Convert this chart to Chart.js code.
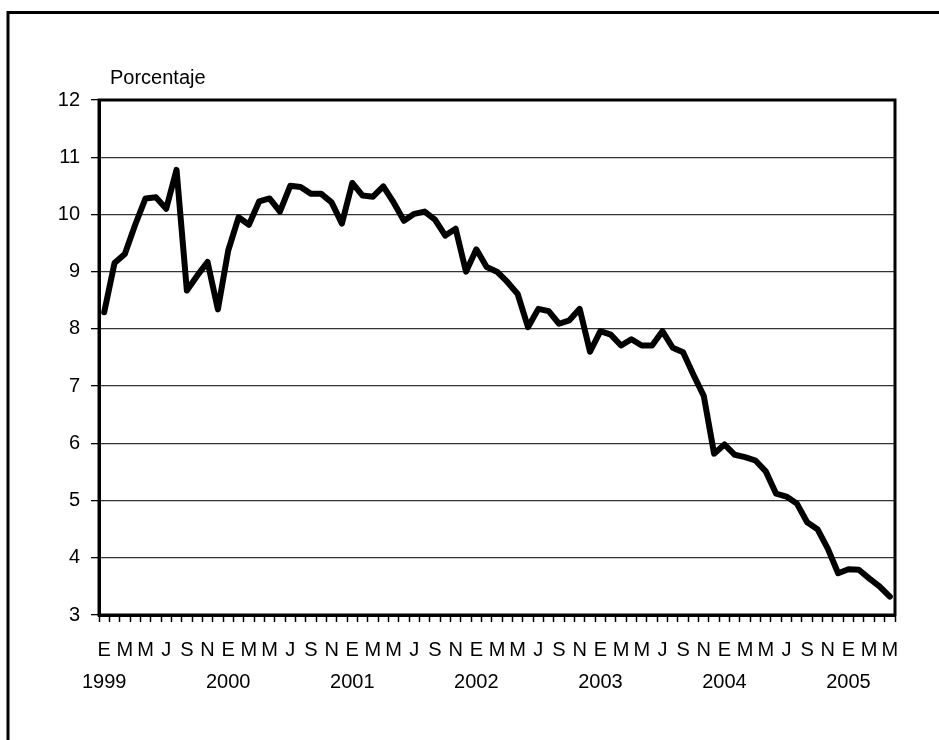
<!DOCTYPE html>
<html>
<head>
<meta charset="utf-8">
<script src="https://cdn.jsdelivr.net/npm/chart.js@4.4.0/dist/chart.umd.min.js"></script>
<style>
  html, body { margin: 0; padding: 0; background: #fff; }
  #wrap { width: 939px; height: 740px; position: relative; }
</style>
</head>
<body>
<div id="wrap"><canvas id="myChart" width="939" height="740"></canvas></div>
<script>
// tasa mensual, enero 1999 - mayo 2005
var years = ['1999', '2000', '2001', '2002', '2003', '2004', '2005'];
var monthLetters = ['E', 'F', 'M', 'A', 'M', 'J', 'J', 'A', 'S', 'O', 'N', 'D'];
var yTicks = [3, 4, 5, 6, 7, 8, 9, 10, 11, 12];
var axisTitle = 'Porcentaje';

var v1999 = [8.29, 9.15, 9.31, 9.82, 10.28, 10.30, 10.10, 10.78, 8.67, 8.93, 9.17, 8.34];
var v2000 = [9.37, 9.95, 9.82, 10.23, 10.28, 10.05, 10.50, 10.48, 10.36, 10.36, 10.21, 9.84];
var v2001 = [10.55, 10.33, 10.31, 10.49, 10.21, 9.89, 10.01, 10.05, 9.91, 9.63, 9.75, 9.00];
var v2002 = [9.39, 9.08, 9.00, 8.82, 8.61, 8.03, 8.35, 8.31, 8.09, 8.15, 8.35, 7.60];
var v2003 = [7.96, 7.90, 7.71, 7.82, 7.71, 7.71, 7.96, 7.67, 7.59, 7.20, 6.83, 5.82];
var v2004 = [5.98, 5.80, 5.76, 5.70, 5.51, 5.12, 5.07, 4.95, 4.62, 4.50, 4.16, 3.73];
var v2005 = [3.80, 3.79, 3.64, 3.50, 3.32];

var byYear = [v1999, v2000, v2001, v2002, v2003, v2004, v2005];

var labels = [];
var values = [];
byYear.forEach(function (arr, y) {
    arr.forEach(function (v, m) {
        labels.push({ m: m, year: years[y] });
        values.push(v);
    });
});

var FONT = "'Liberation Sans', Arial, sans-serif";

var framePlugin = {
    id: 'frame',
    beforeDraw: function (chart) {
        var c = chart.ctx;
        c.save();
        c.fillStyle = '#fff';
        c.fillRect(0, 0, chart.width, chart.height);
        c.strokeStyle = '#000';
        c.lineWidth = 3;
        c.beginPath();
        c.moveTo(8, 760);
        c.lineTo(8, 12.5);
        c.lineTo(960, 12.5);
        c.stroke();
        c.restore();
    },
    afterDatasetsDraw: function (chart) {
        var a = chart.chartArea;
        var c = chart.ctx;
        c.save();
        c.strokeStyle = '#000';
        c.lineWidth = 3;
        c.strokeRect(a.left, a.top, a.right - a.left, a.bottom - a.top);
        c.fillStyle = '#000';
        c.font = '20px ' + FONT;
        c.textAlign = 'left';
        c.textBaseline = 'alphabetic';
        c.fillText(axisTitle, 110, 84);
        c.restore();
    }
};

var ctx = document.getElementById('myChart').getContext('2d');
var myChart = new Chart(ctx, {
    type: 'line',
    data: {
        labels: labels,
        datasets: [
        {
            label: axisTitle,
            data: values,
            borderColor: '#000',
            backgroundColor: 'transparent',
            borderWidth: 6,
            borderJoinStyle: 'round',
            borderCapStyle: 'round',
            pointRadius: 0,
            tension: 0
        }
        ]
    },
    plugins: [framePlugin],
    options: {
        responsive: false,
        animation: false,
        layout: { padding: { left: 0, top: 100, right: 44, bottom: 0 } },
        plugins: {
            legend: { display: false },
            tooltip: { enabled: false }
        },
        scales: {
            x: {
                offset: true,
                afterFit: function (s) { s.height = 125; },
                grid: {
                    offset: true,
                    drawOnChartArea: false,
                    drawTicks: true,
                    tickLength: 7,
                    tickColor: '#000',
                    tickWidth: 1.5
                },
                border: { display: true, color: '#000', width: 3 },
                ticks: {
                    autoSkip: false,
                    maxRotation: 0,
                    minRotation: 0,
                    padding: 12,
                    color: '#000',
                    font: { family: FONT, size: 20, lineHeight: 1.6 },
                    callback: function (val, i) {
                        var l = labels[i];
                        if (l.m % 2 !== 0) return '';
                        if (l.m === 0) return [monthLetters[l.m], l.year];
                        return monthLetters[l.m];
                    }
                }
            },
            y: {
                min: yTicks[0],
                max: yTicks[yTicks.length - 1],
                afterFit: function (s) { s.width = 99; },
                afterBuildTicks: function (s) {
                    s.ticks = yTicks.map(function (v) { return { value: v }; });
                },
                grid: {
                    color: '#333',
                    lineWidth: 1.3,
                    tickLength: 8,
                    tickColor: '#000',
                    tickWidth: 1.3
                },
                border: { display: true, color: '#000', width: 3 },
                ticks: {
                    padding: 11,
                    color: '#000',
                    font: { family: FONT, size: 20 }
                }
            }
        }
    }
});
</script>
</body>
</html>
